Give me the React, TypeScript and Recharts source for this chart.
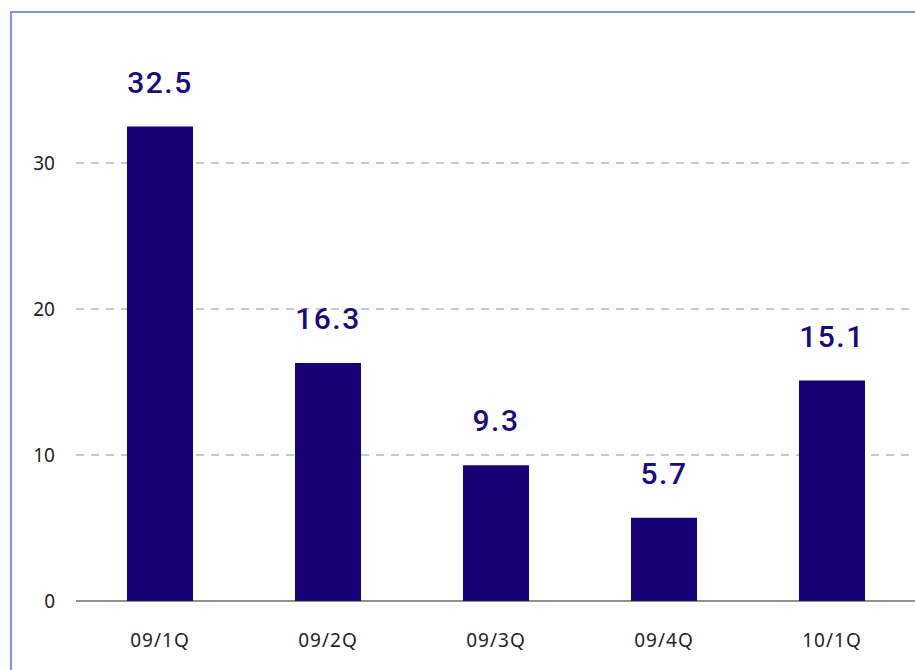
import { BarChart, Bar, XAxis, YAxis, CartesianGrid, LabelList } from "recharts";

const quarters = ["09/1Q", "09/2Q", "09/3Q", "09/4Q", "10/1Q"];
const values = [32.5, 16.3, 9.3, 5.7, 15.1];
const yTicks = [0, 10, 20, 30];

const BAR_COLOUR = "#170077";
const LABEL_COLOUR = "#1b0a78";

export default function App() {
  const data = quarters.map((q, i) => ({ quarter: q, value: values[i] }));

  return (
    <div
      style={{
        position: "fixed",
        left: 0,
        top: 0,
        width: "100vw",
        height: "100vh",
        overflow: "hidden",
        background: "#ffffff",
      }}
    >
      <div
        style={{
          position: "absolute",
          left: 10,
          top: 11,
          width: 2000,
          height: 2000,
          borderLeft: "2px solid #7f95df",
          borderTop: "2px solid #7f95df",
        }}
      />
      <div style={{ position: "absolute", left: 8, top: 8 }}>
        <BarChart
          width={908}
          height={662}
          data={data}
          margin={{ top: 9, right: 0, bottom: 9, left: 0 }}
          barSize={66}
        >
          <CartesianGrid
            vertical={false}
            horizontal
            stroke="#6a98c6"
            strokeDasharray="8 7"
            horizontalValues={[10, 20, 30]}
          />
          <XAxis
            dataKey="quarter"
            height={60}
            tickLine={false}
            axisLine={{ stroke: "#222222", strokeWidth: 1 }}
            tickMargin={27}
            tick={{ fill: "#222222", fontSize: 19, fontFamily: "Noto Sans", letterSpacing: 1 }}
          />
          <YAxis
            width={68}
            domain={[0, 40]}
            ticks={yTicks}
            axisLine={false}
            tickLine={false}
            tickMargin={15}
            tick={{ fill: "#222222", fontSize: 19, fontFamily: "Noto Sans" }}
          />
          <Bar dataKey="value" fill={BAR_COLOUR} isAnimationActive={false}>
            <LabelList
              dataKey="value"
              position="top"
              offset={34}
              fill={LABEL_COLOUR}
              style={{ fontSize: 30, fontFamily: "Roboto", fontWeight: 500, letterSpacing: 1.5 }}
            />
          </Bar>
        </BarChart>
      </div>
    </div>
  );
}
